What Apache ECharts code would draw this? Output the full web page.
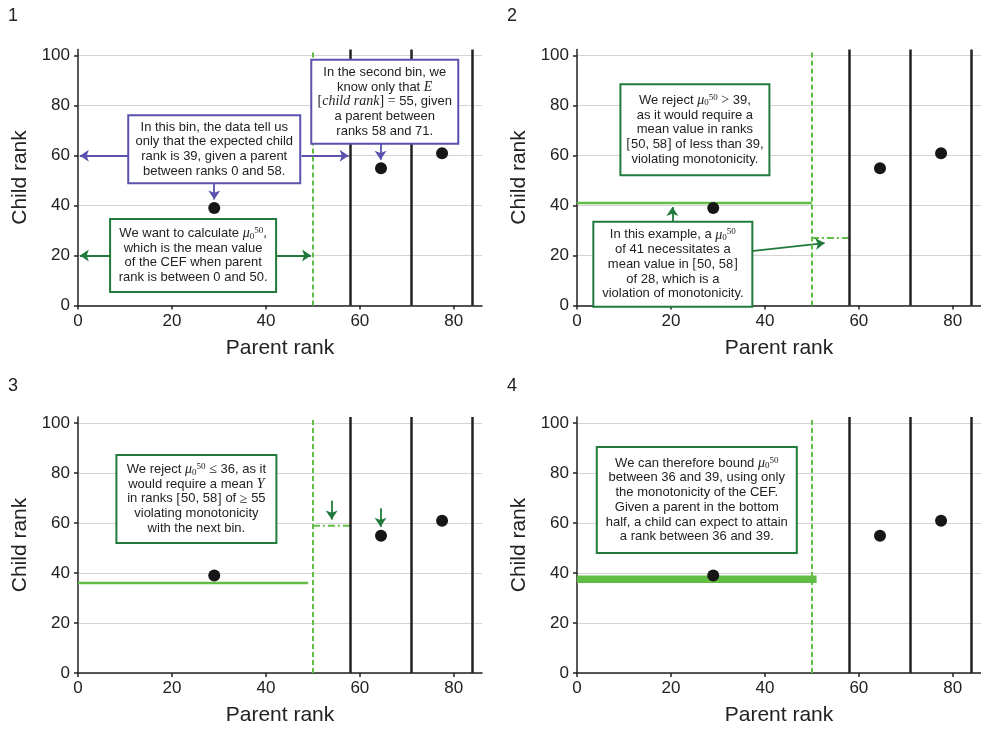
<!DOCTYPE html>
<html>
<head>
<meta charset="utf-8">
<script src="https://cdn.jsdelivr.net/npm/echarts@6/dist/echarts.min.js"></script>
<style>
  html, body { margin: 0; padding: 0; background: #fff; }
  #chart { width: 981px; height: 729px; }
</style>
</head>
<body>
<div id="chart"></div>
<script>
// ---- data ----
const xTicks = [0, 20, 40, 60, 80];
const yTicks = [0, 20, 40, 60, 80, 100];
const binEdges = [58, 71, 84];
const cutoff = 50;
const binMeanX = [29, 64.5, 77.5];
const binMeanY = [39, 55, 61];
const tryHigh = 41;       // panel 2 candidate mu
const tryHighNext = 27;   // implied mean in [50, 58]
const tryLow = 36;        // panel 3 candidate mu
const tryLowNext = 59;    // implied mean in [50, 58]
const bound = [36, 39];   // panel 4 result

const FONT = '"Liberation Sans", Arial, sans-serif';
const SERIF = '"Liberation Serif", "DejaVu Serif", serif';
const GREEN_L = '#62bd46';
const GREEN_D = '#207a3c';
const PURPLE = '#5a52ad';
const INK = '#222';

const chart = echarts.init(document.getElementById('chart'));

// plot area of each panel (px)
const gridPos = [[78, 49.5], [577, 49.5], [78, 417], [577, 417]];

const grids = [], xAxes = [], yAxes = [], series = [];

gridPos.forEach((p, i) => {
  grids.push({ left: p[0], top: p[1], width: 404, height: 256 });
  xAxes.push({
    gridIndex: i, type: 'value', min: 0, max: 86,
    name: 'Parent rank', nameLocation: 'middle', nameGap: 32,
    nameTextStyle: { fontFamily: FONT, fontSize: 21, color: INK },
    axisLine: { show: true, onZero: false, lineStyle: { color: INK, width: 1.5 } },
    axisTick: { show: true, length: 4, customValues: xTicks, lineStyle: { color: INK, width: 1.5 } },
    axisLabel: { customValues: xTicks, fontFamily: FONT, fontSize: 17, color: INK, margin: 7 },
    splitLine: { show: false }
  });
  yAxes.push({
    gridIndex: i, type: 'value', min: 0, max: 102.5,
    name: 'Child rank', nameLocation: 'middle', nameGap: 47, nameRotate: 90,
    nameTextStyle: { fontFamily: FONT, fontSize: 21, color: INK },
    axisLine: { show: true, lineStyle: { color: INK, width: 1.5 } },
    axisTick: { show: true, length: 4, customValues: yTicks, lineStyle: { color: INK, width: 1.5 } },
    axisLabel: { customValues: yTicks, fontFamily: FONT, fontSize: 17, color: INK, margin: 8 },
    splitLine: { show: true, lineStyle: { color: '#d4d4d4', width: 1 } }
  });

  // bin means + bin edges + the cutoff at 50
  series.push({
    type: 'scatter', xAxisIndex: i, yAxisIndex: i, z: 5,
    symbolSize: 12, itemStyle: { color: '#161616', opacity: 1 },
    data: binMeanX.map((x, k) => [x, binMeanY[k]]),
    markLine: {
      silent: true, symbol: 'none', label: { show: false }, animation: false,
      data: binEdges.map(e => ({ xAxis: e, lineStyle: { color: INK, width: 2.5, type: 'solid' } }))
        .concat([{ xAxis: cutoff, lineStyle: { color: GREEN_L, width: 2, type: [5, 3] } }])
    }
  });
});

function seg(i, pts, color, width, type) {
  series.push({
    type: 'line', xAxisIndex: i, yAxisIndex: i, showSymbol: false, silent: true, z: 3,
    data: pts, lineStyle: { color: color, width: width, type: type || 'solid' }
  });
}
function arrows(i, list, color) {
  series.push({
    type: 'lines', coordinateSystem: 'cartesian2d', xAxisIndex: i, yAxisIndex: i, z: 4,
    symbol: ['none', 'arrow'], symbolSize: 9, silent: true,
    lineStyle: { color: color, width: 1.8, opacity: 1 },
    data: list.map(c => ({ coords: c }))
  });
}

// panel 1
arrows(0, [[[11, 60], [0.4, 60]], [[47.6, 60], [57.6, 60]], [[29, 49.4], [29, 42.4]], [[64.4, 65.2], [64.4, 58.4]]], PURPLE);
arrows(0, [[[7.1, 20], [0.4, 20]], [[41.9, 20], [49.6, 20]]], GREEN_D);
// panel 2
seg(1, [[0, tryHigh], [cutoff, tryHigh]], GREEN_L, 2.5);
seg(1, [[cutoff, tryHighNext], [binEdges[0], tryHighNext]], GREEN_L, 2, [7, 3, 2, 3]);
arrows(1, [[[20.3, 33], [20.3, 39.4]], [[37.1, 21.8], [52.7, 25]]], GREEN_D);
// panel 3
seg(2, [[0, tryLow], [49, tryLow]], GREEN_L, 2.5);
seg(2, [[cutoff, tryLowNext], [binEdges[0], tryLowNext]], GREEN_L, 2, [7, 3, 2, 3]);
arrows(2, [[[54, 69], [54, 61.5]], [[64.4, 66], [64.4, 58.6]]], GREEN_D);
// panel 4
series.push({
  type: 'line', xAxisIndex: 3, yAxisIndex: 3, data: [], silent: true,
  markArea: {
    silent: true, itemStyle: { color: GREEN_L, opacity: 1 },
    data: [[{ coord: [0, bound[0]] }, { coord: [51, bound[1]] }]]
  }
});

chart.setOption({
  animation: false,
  grid: grids, xAxis: xAxes, yAxis: yAxes, series: series
});

// ---- text boxes, anchored in data coordinates ----
const mu = '{i|μ}{sub|0}{sup|50}';
const boxes = [
  { panel: 0, at: [29, 62.6], w: 170, h: 66, color: PURPLE,
    text: 'In this bin, the data tell us\nonly that the expected child\nrank is 39, given a parent\nbetween ranks 0 and 58.' },
  { panel: 0, at: [65.3, 81.6], w: 145, h: 82, color: PURPLE,
    text: 'In the second bin, we\nknow only that {i|E}\n{s|[}{i|child rank}{s|]} {s|=} 55, given\na parent between\nranks 58 and 71.' },
  { panel: 0, at: [24.5, 20], w: 164, h: 71, color: GREEN_D,
    text: 'We want to calculate ' + mu + ',\nwhich is the mean value\nof the CEF when parent\nrank is between 0 and 50.' },
  { panel: 1, at: [25.1, 70.4], w: 147, h: 89, color: GREEN_D,
    text: 'We reject ' + mu + ' {s|>} 39,\nas it would require a\nmean value in ranks\n{s|[}50, 58{s|]} of less than 39,\nviolating monotonicity.' },
  { panel: 1, at: [20.4, 16.5], w: 157, h: 83, color: GREEN_D,
    text: 'In this example, a ' + mu + '\nof 41 necessitates a\nmean value in {s|[}50, 58{s|]}\nof 28, which is a\nviolation of monotonicity.' },
  { panel: 2, at: [25.2, 69.7], w: 158, h: 86, color: GREEN_D,
    text: 'We reject ' + mu + ' {s|≤} 36, as it\nwould require a mean {i|Y}\nin ranks {s|[}50, 58{s|]} of {s|≥} 55\nviolating monotonicity\nwith the next bin.' },
  { panel: 3, at: [25.5, 69.3], w: 198, h: 104, color: GREEN_D,
    text: 'We can therefore bound ' + mu + '\nbetween 36 and 39, using only\nthe monotonicity of the CEF.\nGiven a parent in the bottom\nhalf, a child can expect to attain\na rank between 36 and 39.' }
];
const LH = 14.7;
const rich = {
  i: { fontFamily: SERIF, fontStyle: 'italic', fontSize: 14, color: INK, lineHeight: LH },
  s: { fontFamily: SERIF, fontSize: 14, color: '#555', lineHeight: LH },
  sub: { fontFamily: SERIF, fontSize: 9, color: '#555', lineHeight: 9, verticalAlign: 'bottom' },
  sup: { fontFamily: SERIF, fontSize: 9, color: '#555', lineHeight: 9, verticalAlign: 'top' }
};

const graphic = boxes.map(b => {
  const p = chart.convertToPixel({ gridIndex: b.panel }, b.at);
  const nLines = b.text.split('\n').length;
  const padV = (b.h - nLines * LH) / 2;
  return {
    type: 'text', x: p[0], y: p[1], z: 100,
    style: {
      text: b.text, rich: rich,
      font: '13px ' + FONT, fill: INK, lineHeight: LH,
      align: 'center', verticalAlign: 'middle',
      width: b.w - 8, padding: [padV, 4, padV, 4],
      backgroundColor: '#fff', borderColor: b.color, borderWidth: 2
    }
  };
});

// panel numbers
[['1', 8, 7], ['2', 507, 7], ['3', 8, 377], ['4', 507, 377]].forEach(n => {
  graphic.push({
    type: 'text', x: n[1], y: n[2],
    style: { text: n[0], font: '18px ' + FONT, fill: INK }
  });
});

chart.setOption({ graphic: graphic });
</script>
</body>
</html>
